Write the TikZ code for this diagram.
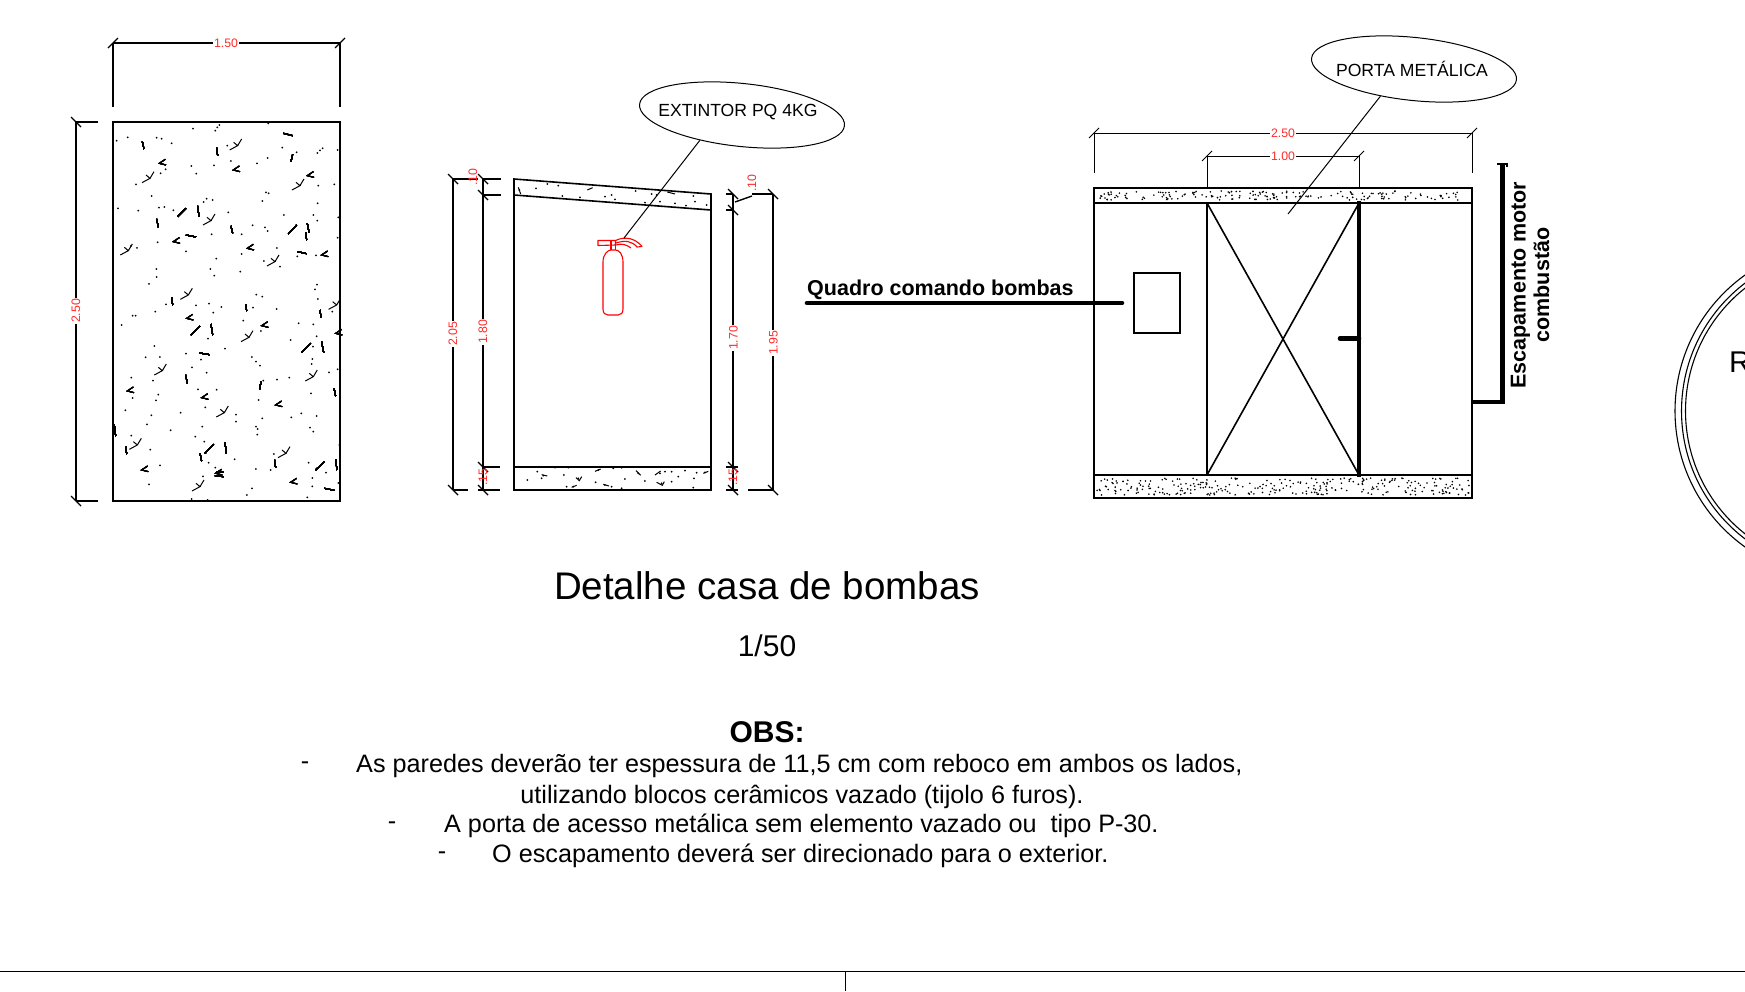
\documentclass[tikz,border=0pt]{standalone}
\usepackage{fontspec}
\setmainfont{Liberation Sans}
\usetikzlibrary{shapes.geometric}

\definecolor{dimred}{HTML}{FF2A2A}

\tikzset{
    wall/.style={line width=1.6pt},
    dimline/.style={line width=1.4pt},
    dimthin/.style={line width=1pt},
    heavy/.style={line width=4.6pt},
    dimlabel/.style={text=dimred, fill=white, inner sep=1pt, font=\fontsize{12.3}{12.3}\selectfont},
    callout/.style={ellipse, draw, line width=1pt, inner sep=0pt, minimum width=206pt, minimum height=63pt, rotate=-6},
    callouttext/.style={inner sep=0pt, font=\fontsize{17.6}{17.6}\selectfont},
    boldtext/.style={inner sep=0pt, align=center, font=\fontsize{21.5}{23.5}\selectfont\bfseries},
    obstext/.style={inner sep=0pt, font=\fontsize{25.2}{25.2}\selectfont},
    extred/.style={draw=red, line width=1.1pt, line join=round}
}

% marks of the wall texture, in the units of the scope
\newcommand{\wallY}[2]{
    \draw[line width=1pt] (#1-24,#2+13) -- (#1,#2) -- (#1-12,#2-10) (#1,#2) -- (#1+12,#2-20);
}
\newcommand{\wallA}[2]{
    \draw[line width=1pt] (#1+18,#2-12) -- (#1,#2) -- (#1+20,#2+5);
}

\begin{document}
\begin{tikzpicture}[x=1pt, y=-1pt]
    \useasboundingbox (0,0) rectangle (1745,991);
    \clip (0,0) rectangle (1745,991);

    % left wall
    \draw[wall] (113,122) rectangle (340,501);
    \draw[dimline] (113,43) -- (340,43);
    \draw[dimline] (113,43) -- (113,107);
    \draw[dimline] (340,43) -- (340,107);
    \draw[dimline] (76,122) -- (76,501);
    \draw[dimline] (76,122) -- (98,122);
    \draw[dimline] (76,501) -- (98,501);
    \foreach \x in {113,340}
        \draw[dimline] (\x-5,43+5) -- (\x+5,43-5);
    \foreach \y in {122,501}
        \draw[dimline] (76-5,\y-5) -- (76+5,\y+5);
    \node[dimlabel] (widthleft) at (226,43) {1.50};
    \node[dimlabel, rotate=90] (heightleft) at (76,311) {2.50};

    \begin{scope}[shift={(105,115)}, x=0.3333pt, y=-0.3333pt]
        \foreach \x/\y in {35/77,68/67,155/68,170/71,200/85,264/41,343/30,337/37,331/47,490/25,367/92,532/98,575/112,653/100,645/106,637/114,698/105,378/138,488/129,456/145,327/151,259/153,274/176,167/175,182/163,93/208,640/212,688/208,140/243,483/232,491/235,472/258,305/251,323/255,296/261,638/265,39/280,100/287,162/278,178/276,205/286,370/292,537/300,625/300,637/317,700/307,443/331,480/337,488/348,410/358,320/358,698/368,158/382,243/409,516/399,96/399,78/393,410/417,577/424,633/421,334/431,477/438,525/455,154/462,316/462,406/470,155/486,328/482,132/507,636/509,630/523,454/539,472/545,639/552,183/568,273/571,312/566,349/576,444/578,515/582,151/590,325/593,682/590}
            \fill (\x,\y) circle[radius=1pt];
        \foreach \x/\y in {135/190,398/92,585/212,318/317,70/407,510/440,250/540,695/570}
            \wallY{\x}{\y}
        \foreach \x/\y in {163/145,385/165,607/182,205/380,427/400,650/420}
            \wallA{\x}{\y}
        \foreach \a/\b/\c/\d in {112/80/117/102,335/98/338/122,535/55/563/62,558/140/563/118,218/305/243/280,278/273/282/305,155/312/160/337,378/333/383/355,243/360/273/366,550/357/575/330,607/325/612/352,602/352/605/375,577/410/605/416,200/547/203/570,422/568/425/588}
            \draw[line width=1pt] (\a,\b) -- (\c,\d);
    \end{scope}
    \begin{scope}[shift={(105,310)}, x=0.3333pt, y=-0.3333pt]
        \foreach \x/\y in {50/45,83/17,92/17,415/32,468/63,581/40,625/43,635/79,557/90,309/86,148/108,624/110,360/116,243/131,122/142,165/141,288/149,441/141,453/155,465/167,622/147,620/162,261/172,305/188,672/187,698/178,79/203,144/212,475/212,516/209,553/203,279/238,335/239,83/264,160/254,153/271,461/270,618/250,61/301,227/308,301/292,139/316,393/314,393/335,472/325,559/322,589/310,635/318,126/343,292/350,453/350,458/357,197/361,457/374,615/353,625/365,79/377,271/380,298/395,136/419,703/405,507/432,389/448,311/458,611/458,165/466,331/473,453/477,497/480,663/488,294/499,622/504,132/523,700/519,622/529,441/535,426/555,260/567,607/562,308/570}
            \fill (\x,\y) circle[radius=1pt];
        \foreach \x/\y in {432/82,172/182,625/200,358/308,97/405,543/430,285/530}
            \wallY{\x}{\y}
        \foreach \x/\y in {245/25,470/47,692/70,67/243,290/263,512/285,110/480,332/490,557/517}
            \wallA{\x}{\y}
        \foreach \a/\b/\c/\d in {258/75/285/48,318/42/323/75,645/0/648/22,590/127/617/100,650/95/656/127,284/129/314/134,242/195/247/220,464/238/468/214,687/235/692/258,28/345/32/378,62/410/65/432,300/430/326/403,360/398/364/430,285/430/290/453,509/450/512/473,692/448/696/480,632/480/658/455,658/535/688/541,330/497/355/500,335/485/355/487}
            \draw[line width=1pt] (\a,\b) -- (\c,\d);
    \end{scope}

    % section of the house
    \draw[wall] (514,179) -- (711,194) -- (711,490) -- (514,490) -- cycle;
    \draw[wall] (514,195) -- (711,210);
    \draw[wall] (514,467) -- (711,467);

    \begin{scope}[shift={(430,70)}, x=0.3333pt, y=-0.3333pt]
        \foreach \x/\y in {318/355,352/342,385/347,525/380,545/375,555/388,617/363,665/372,680/375,790/378,735/400,795/395,830/405,690/395,768/407,645/398,450/382,397/378,268/360}
            \fill (\x,\y) circle[radius=1pt];
        \draw[line width=1pt] (472,360) -- (488,353) (712,366) -- (735,372) (265,352) -- (272,372);
    \end{scope}
    \begin{scope}[shift={(430,430)}, x=0.3333pt, y=-0.3333pt]
        \foreach \x/\y in {292/150,322/125,340/137,335/145,402/135,410/170,430/170,445/145,497/157,525/165,545/170,585/147,645/153,625/130,690/130,705/125,725/125,745/140,765/122,800/128,825/127,792/145,725/155,695/160,790/173,375/113,415/113,505/120,550/115,575/113,575/175}
            \fill (\x,\y) circle[radius=1pt];
        \draw[line width=1pt] (335,134) -- (352,138) (495,124) -- (512,117) (520,163) -- (537,168) (675,135) -- (692,123) (618,122) -- (632,136) (820,130) -- (835,124) (425,172) -- (440,166) (438,143) -- (448,152) -- (455,140) (680,157) -- (697,166) -- (703,155);
    \end{scope}

    \foreach \x in {453,483}
        \draw[dimline] (\x,179) -- (\x,490);
    \draw[dimline] (453,179) -- (478,179);
    \draw[dimline] (483,179) -- (501,179);
    \draw[dimline] (483,195) -- (501,195);
    \draw[dimline] (483,467) -- (500,467);
    \draw[dimline] (453,490) -- (468,490);
    \draw[dimline] (478,490) -- (500,490);
    \foreach \x/\y in {453/179,483/179,483/195,483/467,453/490,483/490}
        \draw[dimline] (\x-5,\y-5) -- (\x+5,\y+5);
    \node[dimlabel, rotate=90] (wallA) at (453,334) {2.05};
    \node[dimlabel, rotate=90] (wallB) at (483,332) {1.80};
    \node[dimlabel, rotate=90, fill=none] (wallC) at (473,177) {.10};
    \node[dimlabel, rotate=90, fill=none] (wallD) at (483,477) {.15};

    \draw[dimline] (733,194) -- (733,490);
    \draw[dimline] (773,194) -- (773,490);
    \draw[dimline] (726,194) -- (733,194);
    \draw[dimline] (752,194) -- (773,194);
    \draw[dimline] (726,210) -- (733,210);
    \draw[dimline] (735,202) -- (752,196);
    \draw[dimline] (726,467) -- (738,467);
    \draw[dimline] (726,490) -- (738,490);
    \draw[dimline] (748,490) -- (773,490);
    \foreach \x/\y in {733/194,733/210,733/467,733/490,773/194,773/490}
        \draw[dimline] (\x-5,\y-5) -- (\x+5,\y+5);
    \node[dimlabel, rotate=90] (wallE) at (733.5,338) {1.70};
    \node[dimlabel, rotate=90] (wallF) at (773.5,343) {1.95};
    \node[dimlabel, rotate=90, fill=none] (wallG) at (752,183) {.10};
    \node[dimlabel, rotate=90, fill=none] (wallH) at (733,477) {.15};

    % extintor
    \draw[extred] (603,262) .. controls (603,254) and (608,250) .. (611,250) -- (615.5,250) .. controls (619,250) and (623,254) .. (623,262) -- (623,309) .. controls (623,313) and (621,315) .. (618,315) -- (608,315) .. controls (605,315) and (603,313) .. (603,309) -- cycle;
    \draw[extred] (611,250) -- (611,241);
    \draw[extred] (615.5,250) -- (615.5,241);
    \draw[extred] (598,240.5) -- (615.5,240.5) -- (615.5,245) -- (598,245.5) -- cycle;
    \draw[extred] (615.5,240.5) .. controls (625,236) and (635,238) .. (642,246.5) -- (637,247) .. controls (632,241) and (625,240) .. (616,243);
    \draw[extred] (616,245) .. controls (622,243) and (627,245) .. (631,248);

    \node[callout] (extell) at (742,115) {};
    \node[callouttext] (exttext) at (738,112.5) {EXTINTOR PQ 4KG};
    \coordinate (extend) at (624,238);
    \draw[line width=1pt] (extell.217) -- (extend);

    % front of the house
    \draw[wall] (1094,188) rectangle (1472,498);
    \draw[wall] (1094,203) -- (1472,203);
    \draw[wall] (1094,475) -- (1472,475);
    \draw[wall] (1207,203) -- (1207,475);
    \draw[wall] (1207,203) -- (1359,475);
    \draw[wall] (1359,203) -- (1207,475);
    \draw[heavy, line width=4.4pt] (1359,201) -- (1359,477);
    \draw[line width=1.2pt] (1134,273) rectangle (1180,333);
    \draw[heavy, line cap=round] (1340,338.5) -- (1359,338.5);

    \pgfmathsetseed{41}
    \foreach \i in {1,...,170}
    {
        \pgfmathsetmacro{\px}{1097+372*rnd}
        \pgfmathsetmacro{\py}{191+9*rnd}
        \fill (\px,\py) circle[radius=0.9pt];
    }
    \foreach \i in {1,...,290}
    {
        \pgfmathsetmacro{\px}{1097+372*rnd}
        \pgfmathsetmacro{\py}{478+17*rnd}
        \fill (\px,\py) circle[radius=0.9pt];
    }

    \draw[dimthin] (1094,133) -- (1472,133);
    \draw[dimthin] (1094,133) -- (1094,173);
    \draw[dimthin] (1472,133) -- (1472,173);
    \draw[dimthin] (1207,156) -- (1359,156);
    \draw[dimthin] (1207,156) -- (1207,188);
    \draw[dimthin] (1359,156) -- (1359,188);
    \foreach \x/\y in {1094/133,1472/133,1207/156,1359/156}
        \draw[dimthin] (\x-5,\y+5) -- (\x+5,\y-5);
    \node[dimlabel] (widthfront) at (1283,133) {2.50};
    \node[dimlabel] (widthdoor) at (1283,156) {1.00};

    \node[callout, fill=white, fill opacity=0] (doorell) at (1414,69) {};
    \node[callouttext] (doortext) at (1412,69) {PORTA METÁLICA};
    \coordinate (doorend) at (1288,214);
    \draw[line width=1pt] (doorell.225) -- (doorend);

    % quadro
    \node[boldtext, anchor=west] (quadro) at (807,289.5) {Quadro comando bombas};
    \coordinate (quadroend) at (1122,303);
    \draw[heavy, line cap=round] (quadro.west |- quadroend) -- (quadroend);

    % escapamento
    \node[boldtext, rotate=90] (escape) at (1530,285) {Escapamento motor\\combustão};
    \draw[heavy] (1472,402) -- (1502.5,402) -- (1502.5,165);
    \draw[line width=2pt] (1498,165) -- (1498,164) -- (1507,164) -- (1507,167);

    % reservoir at the edge of the sheet
    \foreach \r in {167,160.5,156.5}
        \draw[line width=1.1pt] (1842,411) circle[radius=\r];
    \node[inner sep=0pt, anchor=west, font=\fontsize{30}{30}\selectfont] (reserva) at (1729,362) {R};

    % texts
    \node[inner sep=0pt, font=\fontsize{38.5}{38.5}\selectfont] (title) at (767,586) {Detalhe casa de bombas};
    \node[inner sep=0pt, font=\fontsize{30}{30}\selectfont] (scale) at (767,646) {1/50};
    \node[inner sep=0pt, font=\fontsize{30}{30}\selectfont\bfseries] (obs) at (767,732) {OBS:};
    \node[obstext] (dashA) at (305,766) {-};
    \node[obstext, anchor=west] (lineA) at (356,766) {As paredes deverão ter espessura de 11,5 cm com reboco em ambos os lados,};
    \node[obstext] (lineB) at (802,797) {utilizando blocos cerâmicos vazado (tijolo 6 furos).};
    \node[obstext] (dashC) at (392,826) {-};
    \node[obstext, anchor=west] (lineC) at (444,826) {A porta de acesso metálica sem elemento vazado ou\ \ tipo P-30.};
    \node[obstext] (dashD) at (442,856) {-};
    \node[obstext, anchor=west] (lineD) at (492,856) {O escapamento deverá ser direcionado para o exterior.};

    % sheet frame
    \coordinate (frameL) at (0,971);
    \coordinate (frameR) at (1745,971);
    \coordinate (frameT) at (845,971);
    \coordinate (frameB) at (845,991);
    \draw[line width=1pt] (frameL) -- (frameR);
    \draw[line width=1pt] (frameT) -- (frameB);
\end{tikzpicture}
\end{document}
